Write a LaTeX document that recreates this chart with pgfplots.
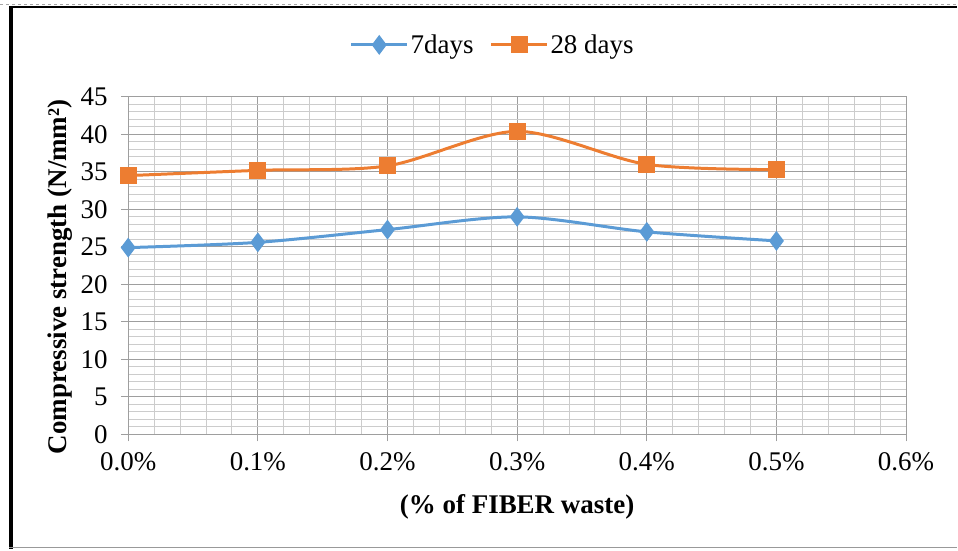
\documentclass[border=0pt]{standalone}
\usepackage{pgfplots}
\pgfplotsset{compat=1.18}
\usepackage{fontspec}
\setmainfont{Liberation Serif}
\definecolor{sblue}{HTML}{5B9BD5}
\definecolor{sorange}{HTML}{ED7D31}
\definecolor{majgrid}{HTML}{9E9E9E}
\definecolor{mingrid}{HTML}{CCCCCC}
\begin{document}
\begin{tikzpicture}
\begin{axis}[
  at={(0pt,0pt)}, anchor=south west,
  scale only axis, width=779pt, height=338pt,
  xmin=0, xmax=6, ymin=0, ymax=45,
  xtick={0,1,2,3,4,5,6},
  xticklabels={0.0\%,0.1\%,0.2\%,0.3\%,0.4\%,0.5\%,0.6\%},
  ytick={0,5,...,45},
  minor x tick num=4, minor y tick num=4,
  grid=both,
  major grid style={majgrid, line width=0.9pt},
  minor grid style={mingrid, line width=0.9pt},
  axis line style={majgrid, line width=0.9pt},
  tick style={majgrid, line width=0.9pt},
  major tick length=7pt, minor tick length=0pt,
  tick align=outside,
  xtick pos=bottom, ytick pos=left,
  tick label style={font=\fontsize{27}{32}\selectfont},
  /pgf/number format/assume math mode=true,
  xticklabel style={yshift=-8pt},
  yticklabel style={xshift=-10pt},
  xlabel={\textbf{(\% of FIBER waste)}},
  ylabel={\textbf{Compressive strength (N/mm²)}},
  label style={font=\fontsize{27}{32}\selectfont},
  xlabel style={at={(axis description cs:0.5,-0.215)}, anchor=center},
  ylabel style={at={(axis description cs:-0.087,0.467)}, anchor=center, rotate=0},
  legend columns=2,
  legend style={at={(0.4686,1.154)}, anchor=center, draw=none, fill=none,
    font=\fontsize{27}{32}\selectfont,
    /tikz/every even column/.append style={column sep=14pt}},
  legend image code/.code={
    \draw[#1, mark=none] (0pt,0pt) -- (56pt,0pt);
    \draw[#1, only marks] plot coordinates {(28pt,0pt)};
  },
]
\addplot[sblue, line width=3pt, smooth, tension=0.5, mark=diamond*, mark size=7.5pt, mark options={solid}]
  coordinates {(0,24.9) (1,25.6) (2,27.3) (3,29.0) (4,27.0) (5,25.8)};
\addlegendentry{7days}
\addplot[sorange, line width=3pt, smooth, tension=0.5, mark=square*, mark size=7pt, mark options={solid}]
  coordinates {(0,34.5) (1,35.2) (2,35.8) (3,40.4) (4,36.0) (5,35.3)};
\addlegendentry{28 days}
\end{axis}
\draw[gray!70,dashed,line width=0.8pt] (-128pt,431pt) -- (830pt,431pt);
\draw[black,line width=2pt] (-119pt,428pt) -- (830pt,428pt);
\draw[black,line width=3.5pt] (-117.5pt,429pt) -- (-117.5pt,-115pt);
\draw[gray!80,line width=1.2pt] (-119pt,-113pt) -- (830pt,-113pt);
\useasboundingbox (-128pt,-115pt) rectangle (830pt,435pt);
\end{tikzpicture}
\end{document}
